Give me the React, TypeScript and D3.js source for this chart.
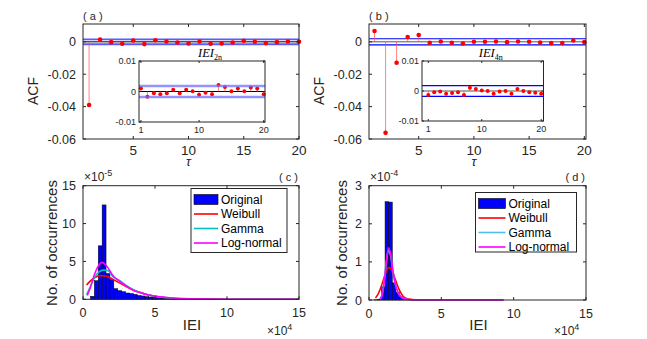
import React from 'react';
import * as d3 from 'd3';

// ---- ACF data (panels a, b) ----
const lags = [1, 2, 3, 4, 5, 6, 7, 8, 9, 10, 11, 12, 13, 14, 15, 16, 17, 18, 19, 20];
const acfA = [-0.039, 0.0014, -0.0002, -0.0012, 0.0008, -0.0014, 0.001, 0.0002, -0.0004, -0.001,
  0.0002, -0.0012, -0.001, -0.0004, 0.0006, 0, -0.0008, -0.0002, 0.0002, 0];
const acfB = [0.0067, -0.0562, -0.0129, 0.003, 0.0042, -0.0006, 0.0002, -0.0006, -0.001, 0,
  0, 0.0002, -0.0002, 0.0002, 0, -0.0004, -0.0008, -0.0008, 0.0008, -0.0002];
const insetA = [0.0011, -0.0017, -0.0006, -0.0009, -0.0006, 0.0006, -0.0006, 0.0006, 0.0001, -0.0011,
  -0.0004, -0.0009, 0.0021, 0.0015, 0.0001, 0.001, 0.0001, 0.0013, 0.001, -0.0009];
const insetB = [-0.0013, -0.0004, -0.0002, -0.0009, -0.0007, -0.0004, -0.0013, 0.0011, 0.0007, 0.0002,
  0, -0.0009, -0.0002, 0, -0.0009, 0.0007, 0, -0.0004, -0.0006, -0.0009];
const confA = 0.0015;
const confB = 0.0019;
const confInsetA = 0.0018;
const confInsetB = 0.0018;
const acfTicks = [0, -0.02, -0.04, -0.06];
const lagTicks = [5, 10, 15, 20];
const insetYTicks = [0.01, 0, -0.01];
const insetXTicks = [1, 10, 20];

// ---- IEI histograms (panels c, d), x in 1e4 ----
const histTicksX = [0, 5, 10, 15];
const binStartC = 0.52;
const binWidthC = 0.27;
const histC = [0.4, 2.45, 7.06, 12.46, 3.4, 2.6, 1.4, 1.14, 1.0, 0.83, 0.75, 0.65, 0.5, 0.44, 0.35, 0.3,
  0.26, 0.2, 0.17, 0.14, 0.12, 0.1, 0.08, 0.06, 0.05, 0.04, 0.03, 0.03, 0.02, 0.02, 0.01, 0.01];
const weibullCx = [0.25, 0.5, 0.8, 1.2, 1.6, 2.1, 2.6, 3.0, 3.5, 4.0, 4.5, 5, 5.5, 6, 7, 8, 10, 15];
const weibullCy = [1.9, 2.4, 2.85, 3.12, 3.07, 2.6, 2.1, 1.7, 1.2, 0.9, 0.6, 0.4, 0.27, 0.17, 0.06, 0.02, 0, 0];
const gammaCx = [0.25, 0.5, 0.8, 1.1, 1.4, 1.7, 2.1, 2.6, 3.0, 3.5, 4.0, 4.5, 5, 5.5, 6, 7, 8, 10, 15];
const gammaCy = [0.6, 1.6, 2.9, 3.6, 3.85, 3.8, 2.95, 2.4, 1.85, 1.25, 0.85, 0.6, 0.4, 0.27, 0.17, 0.06, 0.02, 0, 0];
const lognCx = [0.3, 0.5, 0.8, 1.1, 1.33, 1.64, 2.1, 2.6, 3.0, 3.5, 4.0, 4.5, 5, 5.5, 6, 7, 8, 10, 15];
const lognCy = [0.5, 1.5, 3.3, 4.5, 4.87, 4.4, 3.07, 2.3, 1.75, 1.2, 0.85, 0.6, 0.42, 0.3, 0.21, 0.1, 0.05, 0.01, 0];
const histTicksC = [0, 5, 10, 15];

const binStartD = 0.36;
const binWidthD = 0.25;
const histD = [0.005, 0.02, 0.35, 2.58, 2.57, 0.45, 0.2, 0.08, 0.04, 0.02, 0.01, 0.005];
const weibullDx = [0.45, 0.65, 0.85, 1.05, 1.2, 1.35, 1.5, 1.7, 1.9, 2.1, 2.35, 2.6, 3.0, 3.5, 9.3];
const weibullDy = [0.05, 0.17, 0.36, 0.6, 0.76, 0.85, 0.82, 0.66, 0.45, 0.26, 0.1, 0.04, 0.01, 0, 0];
const gammaDx = [0.75, 0.9, 1.05, 1.2, 1.34, 1.5, 1.65, 1.8, 2.0, 2.3, 2.7, 3.5, 9.3];
const gammaDy = [0.02, 0.14, 0.5, 1.0, 1.3, 1.15, 0.78, 0.45, 0.2, 0.06, 0.015, 0, 0];
const lognDx = [0.75, 0.9, 1.05, 1.2, 1.34, 1.5, 1.65, 1.8, 2.0, 2.3, 2.7, 3.5, 9.3];
const lognDy = [0.02, 0.12, 0.45, 1.0, 1.37, 1.2, 0.78, 0.45, 0.2, 0.06, 0.015, 0, 0];
const histTicksD = [0, 1, 2, 3];

const legendNames = ['Original', 'Weibull', 'Gamma', 'Log-normal'];

const FONT = 'Liberation Sans, Arial, sans-serif';
const AX = '#262626';

function Frame({ x, y, xt, yt, len }) {
  const [x0, x1] = x.range();
  const [y0, y1] = y.range();
  return (
    <g stroke={AX} strokeWidth={1} fill="none">
      <rect x={x0} y={y1} width={x1 - x0} height={y0 - y1} />
      {xt.map(t => (
        <g key={'x' + t}>
          <line x1={x(t)} x2={x(t)} y1={y0} y2={y0 - len} />
          <line x1={x(t)} x2={x(t)} y1={y1} y2={y1 + len} />
        </g>
      ))}
      {yt.map(t => (
        <g key={'y' + t}>
          <line x1={x0} x2={x0 + len} y1={y(t)} y2={y(t)} />
          <line x1={x1} x2={x1 - len} y1={y(t)} y2={y(t)} />
        </g>
      ))}
    </g>
  );
}

function Stems({ x, y, values, r, color }) {
  return (
    <g>
      {values.map((v, i) => (
        <line key={'s' + i} x1={x(lags[i])} x2={x(lags[i])} y1={y(0)} y2={y(v)} stroke={color} strokeWidth={0.7} />
      ))}
      {values.map((v, i) => (
        <circle key={'c' + i} cx={x(lags[i])} cy={y(v)} r={r} fill="#ff0000" />
      ))}
    </g>
  );
}

function AcfPanel({ left, right, xDom, values, conf, label, ylabX, inset, insetBox, insetDom, insetConf, lightBands, insetSub }) {
  const x = d3.scaleLinear().domain(xDom).range([left, right]);
  const y = d3.scaleLinear().domain([-0.06, 0.011]).range([139, 24]);
  const ix = d3.scaleLinear().domain(insetDom).range([insetBox[0], insetBox[1]]);
  const iy = d3.scaleLinear().domain([-0.01, 0.01]).range([insetBox[3], insetBox[2]]);
  const bandColor = lightBands ? '#5a5aff' : '#0000ff';
  const bandW = lightBands ? 1.8 : 1.2;
  const ibandColor = lightBands ? '#7070ff' : '#0000ff';
  const ibandW = lightBands ? 2.6 : 1.2;
  return (
    <g>
      <rect x={left} y={24} width={right - left} height={115} fill="#fff" />
      <line x1={left} x2={right} y1={y(0)} y2={y(0)} stroke={lightBands ? '#000' : '#555'} strokeWidth={1} />
      <line x1={left} x2={right} y1={y(conf)} y2={y(conf)} stroke={bandColor} strokeWidth={bandW} />
      <line x1={left} x2={right} y1={y(-conf)} y2={y(-conf)} stroke={bandColor} strokeWidth={bandW} />
      <Stems x={x} y={y} values={values} r={2.3} color="#ff5050" />
      <Frame x={x} y={y} xt={lagTicks} yt={acfTicks} len={3} />
      {acfTicks.map(t => (
        <text key={t} x={left - 7} y={y(t) + 4.5} textAnchor="end" fontSize={12.5} fontFamily={FONT} fill={AX}>
          {t === 0 ? '0' : t.toFixed(2)}
        </text>
      ))}
      {lagTicks.map(t => (
        <text key={t} x={x(t)} y={155} textAnchor="middle" fontSize={13.5} fontFamily={FONT} fill={AX}>{t}</text>
      ))}
      <text x={x(10)} y={166} textAnchor="middle" fontSize={13} fontStyle="italic" fontFamily={FONT} fill={AX}>τ</text>
      <text x={ylabX} y={91} transform={`rotate(-90 ${ylabX} 91)`} textAnchor="middle" dominantBaseline="middle" fontSize={14} fontFamily={FONT} fill={AX}>ACF</text>
      <text x={left} y={20} fontSize={11} fontFamily={FONT} fill={AX}>{label}</text>

      {/* inset */}
      <rect x={insetBox[0]} y={insetBox[2]} width={insetBox[1] - insetBox[0]} height={insetBox[3] - insetBox[2]} fill="#fff" />
      <line x1={insetBox[0]} x2={insetBox[1]} y1={iy(0)} y2={iy(0)} stroke={lightBands ? '#000' : '#555'} strokeWidth={1} />
      {!lightBands && (
        <g>
          <line x1={insetBox[0]} x2={insetBox[1]} y1={iy(insetConf)} y2={iy(insetConf)} stroke={ibandColor} strokeWidth={ibandW} />
          <line x1={insetBox[0]} x2={insetBox[1]} y1={iy(-insetConf)} y2={iy(-insetConf)} stroke={ibandColor} strokeWidth={ibandW} />
        </g>
      )}
      <Stems x={ix} y={iy} values={inset} r={2} color="#ff5050" />
      {lightBands && (
        <g opacity={0.75}>
          <line x1={insetBox[0]} x2={insetBox[1]} y1={iy(insetConf)} y2={iy(insetConf)} stroke={ibandColor} strokeWidth={ibandW} />
          <line x1={insetBox[0]} x2={insetBox[1]} y1={iy(-insetConf)} y2={iy(-insetConf)} stroke={ibandColor} strokeWidth={ibandW} />
        </g>
      )}
      <Frame x={ix} y={iy} xt={insetXTicks} yt={insetYTicks} len={2} />
      {insetYTicks.map(t => (
        <text key={t} x={insetBox[0] - 3} y={iy(t) + 3} textAnchor="end" fontSize={9} fontFamily={FONT} fill={AX}>
          {t === 0 ? '0' : t.toFixed(2)}
        </text>
      ))}
      {insetXTicks.map(t => (
        <text key={t} x={ix(t)} y={insetBox[3] + 11} textAnchor="middle" fontSize={9} fontFamily={FONT} fill={AX}>{t}</text>
      ))}
      <text x={(insetBox[0] + insetBox[1]) / 2 + 8} y={57} textAnchor="middle" fontFamily="Liberation Serif, serif" fontStyle="italic" fontSize={12.5} fill="#000">
        IEI<tspan fontSize={8} fontStyle="normal" dy={2.5}>{insetSub}</tspan>
      </text>
    </g>
  );
}

function HistPanel({ left, right, bottom, bins, binStart, binWidth, yMax, yTicks, curves, cyan, label, exp, ylabX, leg }) {
  const x = d3.scaleLinear().domain([0, 15]).range([left, right]);
  const y = d3.scaleLinear().domain([0, yMax]).range([bottom, 185.7]);
  const line = d3.line().x(d => x(d[0])).y(d => y(d[1])).curve(d3.curveMonotoneX);
  const colors = ['#ff0000', cyan, '#ff00ff'];
  return (
    <g>
      {bins.map((v, i) => (
        <rect key={i} x={x(binStart + i * binWidth)} y={y(v)} width={x(binWidth) - x(0)} height={y(0) - y(v)}
          fill="#0000ff" stroke="#000" strokeWidth={0.5} />
      ))}
      {curves.map((c, i) => (
        <path key={i} d={line(d3.zip(c[0], c[1]))} fill="none" stroke={colors[i]} strokeWidth={1.6} />
      ))}
      <Frame x={x} y={y} xt={histTicksX} yt={yTicks} len={3} />
      {yTicks.map(t => (
        <text key={t} x={left - 7} y={y(t) + 4.5} textAnchor="end" fontSize={12.5} fontFamily={FONT} fill={AX}>{t}</text>
      ))}
      {histTicksX.map(t => (
        <text key={t} x={x(t)} y={bottom + 18} textAnchor="middle" fontSize={12.5} fontFamily={FONT} fill={AX}>{t}</text>
      ))}
      <text x={left + 1} y={181} fontSize={12} fontFamily={FONT} fill={AX}>
        ×10<tspan fontSize={9} dy={-5}>{exp}</tspan>
      </text>
      <text x={right - 1} y={181} textAnchor="end" fontSize={11} fontFamily={FONT} fill={AX}>{label}</text>
      <text x={(left + right) / 2 + 1} y={330} textAnchor="middle" fontSize={15} fontFamily={FONT} fill={AX}>IEI</text>
      <text x={right - 32} y={335} fontSize={12} fontFamily={FONT} fill={AX}>
        ×10<tspan fontSize={9} dy={-5}>4</tspan>
      </text>
      <text x={ylabX} y={243} transform={`rotate(-90 ${ylabX} 243)`} textAnchor="middle" dominantBaseline="middle" fontSize={15} fontFamily={FONT} fill={AX}>No. of occurrences</text>
      {/* legend */}
      <rect x={leg.x} y={leg.y} width={leg.w} height={leg.h} fill="#fff" stroke={AX} strokeWidth={1} />
      {legendNames.map((n, i) => {
        const cy = leg.y + 11 + i * 14.5;
        return (
          <g key={n}>
            {i === 0 ? (
              <rect x={leg.x + 3} y={cy - 5} width={leg.sw} height={10} fill="#0000ff" stroke="#000" strokeWidth={0.6} />
            ) : (
              <line x1={leg.x + 3} x2={leg.x + 3 + leg.sw} y1={cy} y2={cy} stroke={colors[i - 1]} strokeWidth={1.6} />
            )}
            <text x={leg.x + leg.sw + 6} y={cy + 4.3} fontSize={12} fontFamily={FONT} fill="#000">{n}</text>
          </g>
        );
      })}
    </g>
  );
}

export default function App() {
  return (
    <svg width={647} height={339} style={{ position: 'absolute', left: 0, top: 0, background: '#fff' }}>
      <rect width={647} height={339} fill="#fff" />
      <AcfPanel left={83} right={299} xDom={[0.45, 20]} values={acfA} conf={confA} label="( a )" ylabX={34}
        inset={insetA} insetBox={[139, 265, 61, 122]} insetDom={[0.7, 20.2]} insetConf={confInsetA} lightBands insetSub="2n" />
      <AcfPanel left={369} right={586} xDom={[0.5, 20.15]} values={acfB} conf={confB} label="( b )" ylabX={320}
        inset={insetB} insetBox={[422, 543.5, 61, 121]} insetDom={[-0.06, 20.39]} insetConf={confInsetB} lightBands={false} insetSub="4n" />
      <HistPanel left={83} right={299} bottom={299.3} bins={histC} binStart={binStartC} binWidth={binWidthC}
        yMax={15} yTicks={histTicksC} cyan="#00bfbf" label="( c )" exp="-5" ylabX={53}
        curves={[[weibullCx, weibullCy], [gammaCx, gammaCy], [lognCx, lognCy]]}
        leg={{ x: 191, y: 188.5, w: 96, h: 64, sw: 24 }} />
      <HistPanel left={369} right={586} bottom={300} bins={histD} binStart={binStartD} binWidth={binWidthD}
        yMax={3} yTicks={histTicksD} cyan="#4dbeee" label="( d )" exp="-4" ylabX={343}
        curves={[[weibullDx, weibullDy], [gammaDx, gammaDy], [lognDx, lognDy]]}
        leg={{ x: 475.5, y: 192.5, w: 101, h: 59.5, sw: 27 }} />
    </svg>
  );
}
